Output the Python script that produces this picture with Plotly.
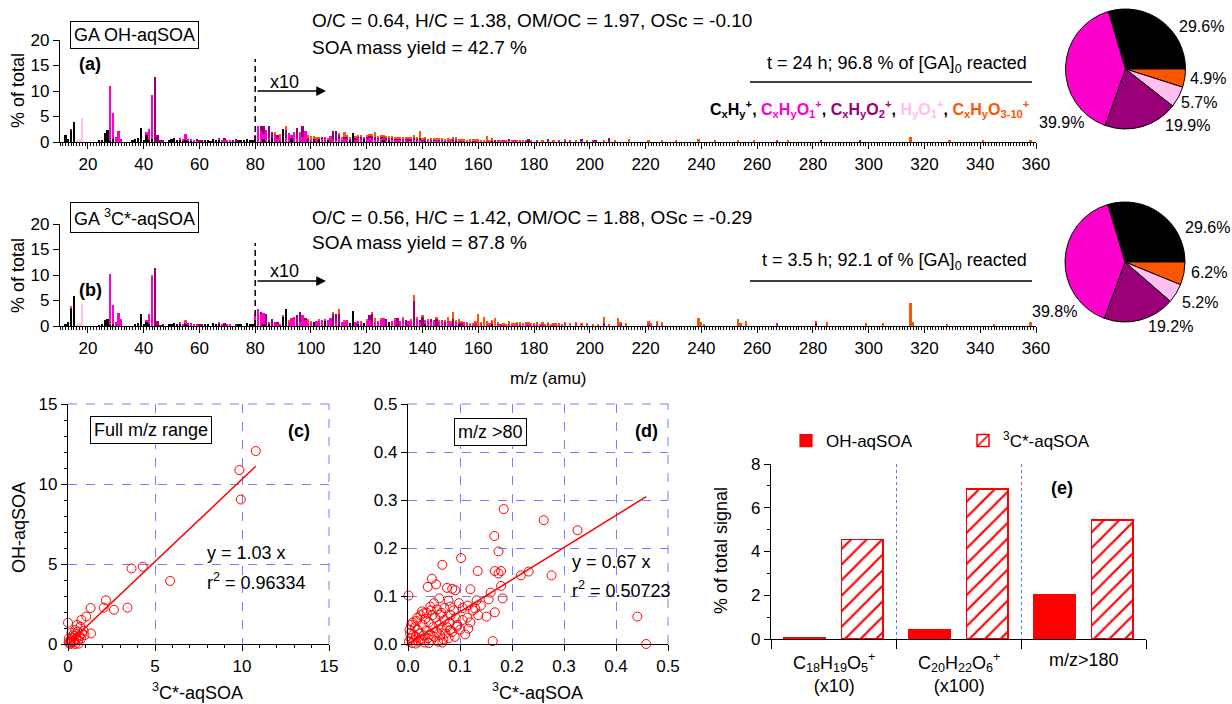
import plotly.graph_objects as go

W, H = 1232, 704
def px(x): return x / W
def py(y): return 1 - y / H

FONT = "Arial, 'Liberation Sans', sans-serif"
BLACK = '#000000'; MAGENTA = '#FF00CC'; PURPLE = '#990077'; LPINK = '#FFC0F0'; ORANGE = '#FF5500'
GRID = '#7B7BFF'; RED = '#FF0000'

# ---------------- mass spectra (% of total; heights for m/z >= 80 as plotted, i.e. x10) -------------
A_CXHY = [(12,1.3),(13,0.6),(14,2.3),(15,3.9),(24,0.2),(25,0.3),(26,1.8),(27,2.3),(28,0.2),(29,0.5),(36,0.2),(37,0.5),(38,0.8),(39,2.8),(40,0.3),(41,1.3),(42,0.4),(43,0.5),(49,0.2),(50,0.6),(51,0.7),(52,0.4),(53,0.5),(54,0.2),(55,0.4),(56,0.2),(57,0.2),(62,0.2),(63,0.4),(64,0.1),(65,0.5),(66,0.2),(67,0.4),(74,0.2),(75,0.3),(76,0.2),(77,0.5),(78,0.2),(79,0.4),
          (80,0.3),(83,0.5),(85,0.3),(86,0.8),(90,2.5),(93,0.8),(101,0.6),(103,0.6),(106,0.5),(114,0.4),(115,1.7),(119,0.5),(126,0.4),(128,0.5),(141,0.2),(152,0.3),(165,0.3),(178,0.3)]
A_O1 = [(28,10.7),(29,5.1),(30,1.0),(31,2.1),(32,0.6),(41,0.6),(42,2.2),(43,8.7),(53,0.3),(54,0.3),(55,1.2),(56,0.3),(57,0.4),(58,0.4),(59,0.3),(67,0.2),(68,0.3),(69,0.3),(70,0.3),(71,0.4),
        (80,1.1),(81,3.1),(82,2.2),(83,1.0),(84,2.3),(85,0.5),(87,1.5),(88,0.5),(89,0.6),(91,0.8),(92,1.8),(93,0.6),(94,2.0),(95,0.8),(96,1.9),(97,0.9),(98,2.2),(100,0.4),(102,0.7),(104,0.6),(105,1.0),(107,1.2),(108,0.4),(109,0.3),(110,0.5),(111,0.4),(112,0.6),(113,0.5),(114,0.3),(116,0.5),(117,0.8),(118,0.6),(119,0.5),(120,0.6),(121,0.8),(122,0.5),(123,0.4),(124,0.6),(125,0.5),(126,0.4),(127,0.5),(128,0.3),(129,0.4),(130,0.3),(131,0.5),(132,0.4),(133,0.3),(134,0.4),(135,0.3),(136,0.3),(137,0.3),(138,0.2),(139,0.3),(140,0.3),(141,0.3),(142,0.3),(143,0.3),(144,0.2),(145,0.4),(146,0.3),(147,0.3),(149,0.3),(150,0.2),(151,0.3),(152,0.2),(153,0.3),(155,0.3),(157,0.2),(159,0.2),(160,0.2),(163,0.2),(165,0.2),(167,0.3),(169,0.2),(171,0.3),(173,0.2),(175,0.3),(177,0.2),(181,0.2),(185,0.3),(189,0.2),(193,0.2),(197,0.2),(201,0.2),(267,0.2)]
A_O2 = [(14,0.3),(44,12.8),(45,1.4),(46,0.2),(47,0.3),(59,0.1),(60,0.4),(61,0.3),(69,0.4),(72,0.2),(73,0.5),
        (82,1.0),(83,1.7),(85,2.4),(86,1.2),(88,0.9),(91,1.5),(95,2.0),(97,2.2),(99,0.8),(104,0.3),(108,1.8),(109,1.9),(110,0.8),(112,0.4),(113,0.5),(116,0.3),(117,0.2),(118,0.4),(120,0.5),(121,0.5),(122,0.8),(123,0.6),(124,0.3),(125,0.5),(126,0.2),(127,0.3),(129,0.4),(130,0.4),(131,0.2),(132,0.3),(133,0.4),(134,0.2),(135,0.3),(136,0.3),(137,0.4),(138,0.3),(139,0.5),(140,0.2),(141,0.1),(143,0.2),(144,0.3),(146,0.2),(148,0.3),(151,0.3),(154,0.2),(158,0.2),(166,0.2),(171,0.2),(178,0.3),(185,0.2),(191,0.3),(197,0.2),(202,0.2),(207,0.8),(283,0.2),(297,0.2)]
A_HYO = [(16,0.3),(17,0.6),(18,4.8)]
A_O3 = [(87,0.4),(89,0.9),(91,0.8),(99,0.5),(100,0.7),(101,0.5),(102,0.3),(103,0.2),(106,0.1),(110,0.4),(111,0.6),(112,0.9),(113,0.3),(114,0.2),(116,0.3),(117,0.2),(118,0.2),(120,0.2),(121,0.3),(122,0.2),(123,0.9),(124,0.3),(125,0.2),(126,0.2),(127,0.3),(128,0.2),(129,0.2),(130,0.2),(131,0.3),(132,0.2),(133,0.3),(134,0.2),(135,0.4),(136,0.3),(137,0.7),(138,0.5),(139,1.3),(140,0.3),(141,0.2),(142,0.3),(143,0.2),(144,0.2),(145,0.3),(146,0.3),(147,0.4),(148,0.2),(149,0.5),(150,0.3),(151,0.2),(152,0.4),(153,0.3),(154,0.3),(155,0.2),(156,0.3),(157,0.3),(158,0.2),(159,0.3),(160,0.2),(161,0.4),(162,0.3),(163,1.0),(164,0.3),(165,0.3),(168,0.3),(170,0.2),(172,0.3),(174,0.2),(176,0.3),(179,0.2),(183,0.3),(187,0.2),(191,0.2),(195,0.3),(199,0.2),(205,0.3),(209,0.2),(214,0.5),(221,0.4),(226,0.3),(231,0.3),(239,0.5),(245,0.3),(253,0.4),(259,0.3),(271,0.2),(315,1.0),(329,0.2),(341,0.2),(358,0.3)]

B_CXHY = [(12,0.3),(13,0.8),(14,3.5),(15,5.9),(24,0.1),(25,0.2),(26,1.1),(27,1.3),(28,0.2),(29,0.4),(37,0.3),(38,0.5),(39,2.3),(40,0.3),(41,0.8),(42,0.3),(49,0.2),(50,0.4),(51,0.6),(52,0.4),(53,0.4),(55,0.3),(56,0.2),(62,0.2),(63,0.4),(65,0.5),(66,0.2),(67,0.4),(74,0.2),(75,0.3),(77,0.6),(78,0.2),(79,0.4),
          (80,0.3),(83,0.4),(85,0.3),(90,1.8),(91,3.4),(101,0.8),(105,1.0),(114,0.5),(115,2.9),(117,0.4),(119,0.6),(128,0.8),(141,0.3),(153,0.3),(165,0.3)]
B_O1 = [(28,9.9),(29,3.7),(30,0.7),(31,2.6),(32,1.3),(41,0.2),(42,2.0),(43,9.7),(53,0.3),(54,0.3),(55,0.6),(56,0.3),(57,0.5),(58,0.3),(59,0.3),(67,0.2),(68,0.3),(70,0.3),(71,0.3),
        (80,2.0),(81,3.3),(82,2.4),(83,2.1),(85,0.5),(87,0.7),(88,0.5),(89,0.4),(90,0.4),(92,0.8),(93,1.6),(94,1.8),(96,0.8),(97,2.1),(98,1.2),(99,0.5),(100,0.6),(102,0.9),(103,1.0),(104,1.1),(105,0.4),(106,1.2),(107,1.6),(109,0.8),(111,0.8),(112,0.9),(113,1.2),(116,0.8),(117,0.5),(118,0.7),(120,1.1),(121,1.2),(123,0.8),(124,1.0),(125,1.2),(126,1.5),(129,0.9),(130,1.3),(132,1.0),(133,1.4),(135,0.9),(136,1.0),(138,1.5),(139,0.8),(141,0.9),(142,1.0),(143,0.8),(144,1.2),(146,0.7),(147,1.2),(149,0.9),(150,0.6),(152,0.8),(153,0.5),(155,0.7),(156,0.4),(158,0.3),(159,0.5),(161,0.3),(163,0.4),(164,0.3),(165,0.4),(167,0.3),(168,0.4),(171,0.4),(172,0.3),(174,0.4),(175,0.5),(177,0.4),(178,0.3),(180,0.3),(181,0.4),(183,0.3),(185,0.4),(187,0.3),(189,0.3),(191,0.3),(195,0.3),(199,0.2),(211,0.4),(221,0.3),(224,0.4),(267,0.6)]
B_O2 = [(14,0.2),(44,11.3),(45,1.0),(46,0.1),(47,0.2),(60,0.3),(61,0.2),(69,0.5),(73,0.2),
        (82,0.4),(84,2.4),(86,1.3),(88,0.3),(95,2.1),(96,2.0),(98,0.3),(108,2.4),(109,1.6),(110,2.4),(121,1.0),(122,2.5),(127,1.3),(131,1.5),(134,1.2),(137,5.0),(139,0.4),(140,1.8),(143,0.6),(145,1.4),(148,0.8),(151,1.3),(154,0.6),(205,0.6),(281,0.7)]
B_HYO = [(16,0.2),(17,0.5),(18,4.3)]
B_O3 = [(14,0.1),(43,0.3),(55,0.2),(92,0.3),(99,0.8),(100,0.3),(103,0.3),(108,0.3),(110,0.9),(112,0.2),(118,0.3),(120,0.2),(122,0.3),(123,0.8),(125,0.3),(130,0.2),(133,0.3),(136,0.2),(137,1.0),(138,0.3),(140,0.3),(142,0.4),(145,0.3),(146,0.5),(148,0.3),(149,0.8),(150,0.4),(151,1.4),(152,0.3),(153,0.6),(154,0.3),(156,0.4),(157,0.6),(158,0.3),(159,0.4),(160,2.4),(161,0.5),(162,1.8),(163,0.6),(164,0.3),(165,0.4),(166,1.6),(167,0.4),(169,0.5),(170,0.4),(171,0.5),(172,0.3),(173,0.6),(174,0.3),(175,0.3),(176,0.5),(177,0.3),(178,0.4),(179,0.5),(180,0.3),(181,0.4),(182,0.3),(183,0.4),(184,0.3),(185,0.3),(186,0.4),(187,0.3),(188,0.5),(189,0.3),(190,0.3),(191,0.4),(193,0.5),(195,0.4),(197,0.6),(199,0.3),(201,0.4),(203,0.3),(205,1.2),(207,0.4),(210,1.6),(211,0.3),(213,0.5),(221,0.7),(222,0.5),(224,0.6),(226,0.8),(239,1.6),(240,0.7),(241,0.4),(253,1.3),(254,0.6),(256,1.0),(281,0.3),(285,0.8),(299,0.6),(305,0.5),(315,4.5),(316,0.7),(328,0.4),(345,0.3),(358,0.7)]

MZ_TICKS = list(range(20, 361, 20))

# ---------------- pies -------------
PIE_A = [29.6, 4.9, 5.7, 19.9, 39.9]
PIE_B = [29.6, 6.2, 5.2, 19.2, 39.8]
PIE_COLORS = [BLACK, ORANGE, LPINK, PURPLE, MAGENTA]

# ---------------- scatter (x = 3C*-aqSOA, y = OH-aqSOA) -------------
C_POINTS = [(10.79,12.06),(9.85,10.87),(9.93,9.03),(3.65,4.72),(4.30,4.83),(5.87,3.94),(2.18,2.73),(2.05,2.27),(2.64,2.14),(3.42,2.27),(1.30,2.25),(1.05,1.72),(0.77,1.50),(0.0,1.33),(1.32,0.66),
            (0.71,1.08),(0.55,0.76),(0.42,0.87),(0.80,0.66),(0.29,0.55),(0.48,0.34),(0.17,0.28),(0.61,0.02),(0.42,0.0),(0.04,0.13),(0.13,0.0),(0.33,0.19),(0.67,0.49),(0.90,0.83),(0.52,1.19),
            (0.25,0.40),(0.35,0.10),(0.08,0.05),(0.20,0.70),(0.60,0.25),(0.15,0.15),(0.05,0.35),(0.38,0.50),(0.75,0.35),(0.95,0.55)]
C_SLOPE, C_R2 = 1.03, 0.96334

D_POINTS = [(0.184,0.281),(0.261,0.258),(0.326,0.237),(0.166,0.225),(0.174,0.193),(0.102,0.179),(0.066,0.165),(0.134,0.152),(0.167,0.152),(0.179,0.152),(0.174,0.147),(0.217,0.143),(0.232,0.151),(0.276,0.143),
            (0.046,0.136),(0.054,0.124),(0.038,0.119),(0.075,0.117),(0.085,0.115),(0.091,0.112),(0.120,0.114),(0.179,0.121),(0.159,0.107),(0.155,0.093),(0.182,0.095),(0.132,0.091),(0.129,0.074),(0.105,0.075),
            (0.167,0.066),(0.001,0.101),(0.151,0.057),(0.114,0.055),(0.441,0.057),(0.458,0.0),(0.163,0.006),(0.081,0.078),(0.043,0.078),(0.030,0.064),(0.062,0.061),(0.094,0.036),(0.116,0.032),(0.081,0.029),
            (0.002,0.005),(0.005,0.012),(0.008,0.002),(0.010,0.020),(0.012,0.008),(0.015,0.015),(0.018,0.030),(0.020,0.005),(0.022,0.022),(0.025,0.010),(0.028,0.040),(0.030,0.018),(0.032,0.003),(0.035,0.028),
            (0.038,0.012),(0.040,0.045),(0.042,0.020),(0.045,0.008),(0.048,0.035),(0.050,0.015),(0.052,0.055),(0.055,0.025),(0.058,0.005),(0.060,0.040),(0.062,0.018),(0.065,0.030),(0.068,0.010),(0.070,0.050),
            (0.072,0.022),(0.075,0.035),(0.078,0.012),(0.080,0.045),(0.085,0.025),(0.090,0.015),(0.095,0.040),(0.100,0.030),(0.105,0.050),(0.110,0.020),(0.003,0.030),(0.006,0.040),(0.004,0.022),(0.013,0.035),
            (0.016,0.048),(0.024,0.060),(0.027,0.068),(0.033,0.052),(0.044,0.070),(0.047,0.060),(0.036,0.065),(0.056,0.072),(0.064,0.065),(0.070,0.075),(0.082,0.060),(0.088,0.070),(0.092,0.055),(0.015,0.001),
            (0.040,0.002),(0.066,0.003),(0.018,0.055),(0.009,0.045),(0.120,0.045),(0.125,0.070),(0.135,0.060),(0.140,0.080),(0.098,0.085),(0.115,0.080),(0.078,0.090),(0.060,0.095),(0.050,0.085)]
D_SLOPE, D_R2 = 0.67, 0.50723

# ---------------- bar panel (e) -------------
E_LABELS = ['C<sub>18</sub>H<sub>19</sub>O<sub>5</sub><sup>+</sup><br>(x10)',
            'C<sub>20</sub>H<sub>22</sub>O<sub>6</sub><sup>+</sup><br>(x100)',
            'm/z>180']
E_OH = [0.05, 0.45, 2.02]
E_3C = [4.55, 6.85, 5.43]

fig = go.Figure()

families = [(BLACK, A_CXHY, B_CXHY), (MAGENTA, A_O1, B_O1), (PURPLE, A_O2, B_O2), (LPINK, A_HYO, B_HYO), (ORANGE, A_O3, B_O3)]
for color, a, b in families:
    for pts, xa, ya in [(a, 'x', 'y'), (b, 'x2', 'y2')]:
        fig.add_trace(go.Bar(x=[p[0] for p in pts], y=[p[1] for p in pts], xaxis=xa, yaxis=ya,
                             marker=dict(color=color, line=dict(width=0)), width=0.8,
                             showlegend=False, hoverinfo='skip'))

# pies
for vals, dom in [(PIE_A, dict(x=[px(1065), px(1186)], y=[py(129), py(9)])),
                  (PIE_B, dict(x=[px(1064), px(1186)], y=[py(322), py(202)]))]:
    fig.add_trace(go.Pie(values=vals, marker=dict(colors=PIE_COLORS, line=dict(color='black', width=1)),
                         sort=False, direction='clockwise', rotation=-16.6, textinfo='none',
                         hoverinfo='skip', domain=dom, showlegend=False))

# scatter c, d
for pts, slope, xa, ya in [(C_POINTS, C_SLOPE, 'x3', 'y3'), (D_POINTS, D_SLOPE, 'x4', 'y4')]:
    xs = [p[0] for p in pts]; ys = [p[1] for p in pts]
    fig.add_trace(go.Scatter(x=xs, y=ys, mode='markers', xaxis=xa, yaxis=ya, cliponaxis=False,
                             marker=dict(symbol='circle-open', size=9, color=RED, line=dict(width=1)),
                             showlegend=False, hoverinfo='skip'))
    xmax = max(xs)
    fig.add_trace(go.Scatter(x=[0, xmax], y=[0, slope * xmax], mode='lines', xaxis=xa, yaxis=ya,
                             line=dict(color=RED, width=1.5), showlegend=False, hoverinfo='skip'))

# bars e
fig.add_trace(go.Bar(x=[i - 0.23 for i in range(3)], y=E_OH, width=0.335, xaxis='x5', yaxis='y5',
                     name='OH-aqSOA', marker=dict(color=RED, line=dict(color=RED, width=1.2))))
fig.add_trace(go.Bar(x=[i + 0.23 for i in range(3)], y=E_3C, width=0.335, xaxis='x5', yaxis='y5',
                     name='<sup>3</sup>C*-aqSOA',
                     marker=dict(color='white', line=dict(color=RED, width=1.5),
                                 pattern=dict(shape='/', fgcolor=RED, bgcolor='white', size=11, solidity=0.2))))

def ax(domain, rng, **kw):
    d = dict(domain=domain, range=rng, showline=True, linecolor='black', linewidth=1.3, ticks='outside',
             tickcolor='black', tickwidth=1.3, ticklen=6, showgrid=False, zeroline=False, automargin=False,
             tickfont=dict(size=17, color='black', family=FONT), fixedrange=True)
    d.update(kw)
    return d

minor_mz = dict(tickmode='linear', tick0=0, dtick=1, ticks='outside', ticklen=3, tickcolor='black')
grid_kw = dict(showgrid=True, gridcolor=GRID, griddash='dash', gridwidth=1)
minor_c = dict(tickmode='linear', tick0=0, dtick=1, ticks='outside', ticklen=3, tickcolor='black', showgrid=False)

fig.update_layout(
    width=W, height=H, margin=dict(l=0, r=0, t=0, b=0), template='none',
    paper_bgcolor='white', plot_bgcolor='rgba(0,0,0,0)', barmode='stack',
    font=dict(family=FONT, color='black', size=17),
    xaxis=ax([px(60), px(1036)], [10, 360], tickvals=MZ_TICKS, minor=minor_mz, anchor='y'),
    yaxis=ax([py(142), py(40)], [0, 20], tickvals=[0, 5, 10, 15, 20], anchor='x'),
    xaxis2=ax([px(60), px(1036)], [10, 360], tickvals=MZ_TICKS, minor=minor_mz, anchor='y2'),
    yaxis2=ax([py(326), py(224)], [0, 20], tickvals=[0, 5, 10, 15, 20], anchor='x2'),
    xaxis3=ax([px(68), px(329)], [0, 15], tickvals=[0, 5, 10, 15], anchor='y3', minor=minor_c, **grid_kw),
    yaxis3=ax([py(644), py(404)], [0, 15], tickvals=[0, 5, 10, 15], anchor='x3', minor=minor_c, **grid_kw),
    xaxis4=ax([px(408), px(668)], [0, 0.5], tickvals=[0, 0.1, 0.2, 0.3, 0.4, 0.5], tickformat='.1f', anchor='y4', **grid_kw),
    yaxis4=ax([py(644), py(404)], [0, 0.5], tickvals=[0, 0.1, 0.2, 0.3, 0.4, 0.5], tickformat='.1f', anchor='x4', **grid_kw),
    xaxis5=ax([px(771), px(1146)], [-0.5, 2.5], tickvals=[-0.5, 0.5, 1.5, 2.5], ticktext=['', '', '', ''], ticklen=9,
              anchor='y5', showgrid=True, gridcolor='#6A6AFF', griddash='3px,3px', gridwidth=1),
    yaxis5=ax([py(639), py(464)], [0, 8], tickvals=[0, 2, 4, 6, 8], anchor='x5',
              minor=dict(tickmode='linear', tick0=0, dtick=1, ticks='outside', ticklen=3, tickcolor='black')),
    legend=dict(orientation='h', x=px(786), y=py(441), xanchor='left', yanchor='middle', traceorder='normal',
                font=dict(size=17, family=FONT), bgcolor='rgba(0,0,0,0)', entrywidth=132, entrywidthmode='pixels'),
)

def txt(x, y, s, size=18, xanchor='center', yanchor='middle', color='black', **kw):
    return dict(x=px(x), y=py(y), xref='paper', yref='paper', text=s, showarrow=False,
                xanchor=xanchor, yanchor=yanchor, font=dict(size=size, color=color, family=FONT), **kw)

box = dict(bordercolor='black', borderwidth=1, borderpad=3, bgcolor='white')
legend_row = ("<b>C<sub>x</sub>H<sub>y</sub><sup>+</sup>, "
              f"<span style='color:{MAGENTA}'>C<sub>x</sub>H<sub>y</sub>O<sub>1</sub><sup>+</sup></span>, "
              f"<span style='color:{PURPLE}'>C<sub>x</sub>H<sub>y</sub>O<sub>2</sub><sup>+</sup></span>, "
              f"<span style='color:{LPINK}'>H<sub>y</sub>O<sub>1</sub><sup>+</sup></span>, "
              f"<span style='color:{ORANGE}'>C<sub>x</sub>H<sub>y</sub>O<sub>3-10</sub><sup>+</sup></span></b>")

ann = [
    txt(134, 35, 'GA OH-aqSOA', **box),
    txt(90, 64, '<b>(a)</b>'),
    txt(310, 20, 'O/C = 0.64, H/C = 1.38, OM/OC = 1.97, OSc = -0.10', size=19, xanchor='left'),
    txt(310, 48, 'SOA mass yield = 42.7 %', size=19, xanchor='left'),
    txt(284, 82, 'x10'),
    txt(1029, 65, 't = 24 h; 96.8 % of [GA]<sub>0</sub> reacted', xanchor='right'),
    txt(1032, 109, legend_row, size=16, xanchor='right'),
    txt(18, 91, '% of total', textangle=-90),

    txt(134, 217, 'GA <sup>3</sup>C*-aqSOA', **box),
    txt(90, 290, '<b>(b)</b>'),
    txt(310, 218, 'O/C = 0.56, H/C = 1.42, OM/OC = 1.88, OSc = -0.29', size=19, xanchor='left'),
    txt(310, 242, 'SOA mass yield = 87.8 %', size=19, xanchor='left'),
    txt(284, 271, 'x10'),
    txt(1029, 262, 't = 3.5 h; 92.1 of % [GA]<sub>0</sub> reacted', xanchor='right'),
    txt(18, 276, '% of total', textangle=-90),
    txt(548, 378, 'm/z (amu)', size=17),

    txt(1201, 26, '29.6%', size=16), txt(1208, 78, '4.9%', size=16), txt(1199, 103, '5.7%', size=16),
    txt(1187, 126, '19.9%', size=16), txt(1061, 123, '39.9%', size=16),
    txt(1207, 227, '29.6%', size=16), txt(1209, 273, '6.2%', size=16), txt(1200, 302, '5.2%', size=16),
    txt(1170, 326, '19.2%', size=16), txt(1054, 311, '39.8%', size=16),

    txt(151, 430, 'Full m/z range', **box),
    txt(299, 431, '<b>(c)</b>'),
    txt(205, 553, f'y = {C_SLOPE:.2f} x', xanchor='left'),
    txt(205, 581, f'r<sup>2</sup> = {C_R2}', xanchor='left'),
    txt(19, 528, 'OH-aqSOA', textangle=-90),
    txt(197, 691, '<sup>3</sup>C*-aqSOA'),

    txt(490, 432, 'm/z >80', **box),
    txt(646, 431, '<b>(d)</b>'),
    txt(570, 562, f'y = {D_SLOPE:.2f} x', xanchor='left'),
    txt(570, 589, f'r<sup>2</sup> = {D_R2}', xanchor='left'),
    txt(537, 691, '<sup>3</sup>C*-aqSOA'),

    txt(1062, 488, '<b>(e)</b>'),
    txt(721, 551, '% of total signal', textangle=-90),
]
for i, lab in enumerate(E_LABELS):
    ann.append(dict(x=i, y=py(648), xref='x5', yref='paper', text=lab, showarrow=False,
                    xanchor='center', yanchor='top', font=dict(size=18, family=FONT, color='black')))
# x10 arrows
for yy in (91, 281):
    ann.append(dict(x=px(326), y=py(yy), xref='paper', yref='paper', ax=-70, ay=0, axref='pixel', ayref='pixel',
                    text='', showarrow=True, arrowhead=2, arrowsize=1.3, arrowwidth=1.5, arrowcolor='black'))
fig.update_layout(annotations=ann)

frame = dict(color=GRID, width=1, dash='dash')
shapes = [
    dict(type='line', xref='paper', yref='paper', x0=px(750), x1=px(1032), y0=py(82), y1=py(82), line=dict(color='black', width=1.5)),
    dict(type='line', xref='paper', yref='paper', x0=px(750), x1=px(1032), y0=py(281), y1=py(281), line=dict(color='black', width=1.5)),
    dict(type='line', xref='x', yref='paper', x0=80, x1=80, y0=py(142), y1=py(59), line=dict(color='black', width=1.5, dash='6px,4px')),
    dict(type='line', xref='x2', yref='paper', x0=80, x1=80, y0=py(326), y1=py(243), line=dict(color='black', width=1.5, dash='6px,4px')),
]
# dashed top/right frame of panels (c) and (d)
for xr, yr in (('x3', 'y3'), ('x4', 'y4')):
    shapes.append(dict(type='line', xref=f'{xr} domain', yref=f'{yr} domain', x0=0, x1=1, y0=1, y1=1, line=frame, layer='below'))
    shapes.append(dict(type='line', xref=f'{xr} domain', yref=f'{yr} domain', x0=1, x1=1, y0=0, y1=1, line=frame, layer='below'))
fig.update_layout(shapes=shapes)

fig.write_html('out.html')
